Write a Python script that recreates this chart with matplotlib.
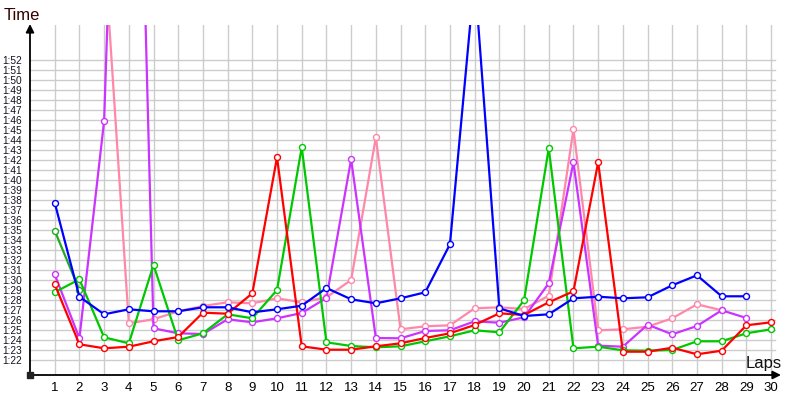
import numpy as np
import matplotlib
matplotlib.use("Agg")
import matplotlib.pyplot as plt

nan = np.nan
laps = np.arange(1, 31)

# lap times in seconds
blue = [97.73, 88.33, 86.57, 87.07, 86.87, 86.87, 87.27, 87.27, 86.77, 87.07,
        87.43, 89.2, 88.07, 87.67, 88.17, 88.77, 93.57, 120.4, 87.17, 86.4,
        86.57, 88.17, 88.33, 88.17, 88.27, 89.47, 90.47, 88.37, 88.37, nan]
red = [89.57, 83.57, 83.17, 83.33, 83.87, 84.3, 86.73, 86.63, 88.67, 102.27,
       83.37, 83.03, 83.03, 83.37, 83.67, 84.2, 84.67, 85.5, 86.67, 86.5,
       87.77, 88.87, 101.77, 82.83, 82.83, 83.23, 82.57, 82.93, 85.47, 85.77]
green = [88.77, 90.07, 84.27, 83.67, 91.5, 83.97, 84.67, 86.57, 86.17, 89.0,
         103.27, 83.77, 83.4, 83.27, 83.37, 83.87, 84.37, 84.97, 84.77, 87.97,
         103.17, 83.17, 83.33, 82.97, 82.93, 83.0, 83.87, 83.87, 84.67, 85.07]
green2 = [94.93, 89.0] + [nan] * 28
magenta = [90.57, 84.17, 105.9, 180.0, 85.17, 84.67, 84.6, 86.07, 85.77, 86.17,
           86.7, 88.2, 102.07, 84.2, 84.17, 84.9, 84.97, 85.87, 85.73, 86.27,
           89.67, 101.77, 83.43, 83.33, 85.53, 84.57, 85.4, 86.97, 86.2, nan]
pink = [nan, nan, 123.4, 85.67, 86.07, 86.87, 87.4, 87.77, 87.67, 88.17,
        87.77, 88.27, 90.0, 104.27, 85.07, 85.37, 85.47, 87.17, 87.27, 87.1,
        88.43, 105.07, 84.97, 85.07, 85.33, 86.17, 87.57, 86.97, nan, nan]

ytick_vals = list(range(82, 113))
ytick_labels = ["1:%02d" % (v - 60) for v in ytick_vals]

fig = plt.figure(figsize=(8, 4), dpi=100)
ax = fig.add_axes([0.0375, 0.0625, 0.935, 0.875])
ax.set_xlim(0, 30.28)
ax.set_ylim(80.5, 115.5)

# grid: vertical lines full height, horizontal only 1:22..1:52
for x in laps:
    ax.axvline(x, color="#cccccc", lw=1, zorder=0)
for y in ytick_vals:
    ax.plot([0, 30.15], [y, y], color="#cccccc", lw=1, zorder=0)

series = [
    (pink, "#ff88aa"),
    (magenta, "#cc33ff"),
    (green2, "#22aa22"),
    (green, "#00c800"),
    (red, "#ff0000"),
    (blue, "#0000ff"),
]
for vals, c in series:
    ax.plot(laps, vals, color=c, lw=1.6, marker="o", ms=4.3,
            mfc="white", mec=c, mew=1.0, zorder=3)

for s in ax.spines.values():
    s.set_visible(False)

ax.set_xticks(laps)
ax.set_xticklabels([str(l) for l in laps], family="Liberation Sans", fontsize=9.5)
ax.set_yticks(ytick_vals)
ax.set_yticklabels(ytick_labels, family="Liberation Sans", fontsize=7.3, color="#111122")
ax.tick_params(axis="both", length=0)
ax.tick_params(axis="y", pad=6)
ax.tick_params(axis="x", pad=5)

# axes with arrows
ax.annotate("", xy=(0, 115.6), xytext=(0, 80.5), xycoords="data",
            arrowprops=dict(arrowstyle="-|>", color="black", lw=1.3,
                            mutation_scale=12, shrinkA=0, shrinkB=0),
            annotation_clip=False)
ax.annotate("", xy=(30.4, 80.5), xytext=(0, 80.5), xycoords="data",
            arrowprops=dict(arrowstyle="-|>", color="black", lw=1.3,
                            mutation_scale=12, shrinkA=0, shrinkB=0),
            annotation_clip=False)
ax.plot([0], [80.5], marker="s", color="#222222", ms=4, clip_on=False, zorder=5)

fig.text(0.005, 0.96, "Time", family="Liberation Sans", fontsize=12,
         color="#330000", va="center", ha="left")
fig.text(0.932, 0.092, "Laps", family="Liberation Sans", fontsize=12,
         color="#111111", va="center", ha="left")

fig.savefig("out.png", dpi=100)
